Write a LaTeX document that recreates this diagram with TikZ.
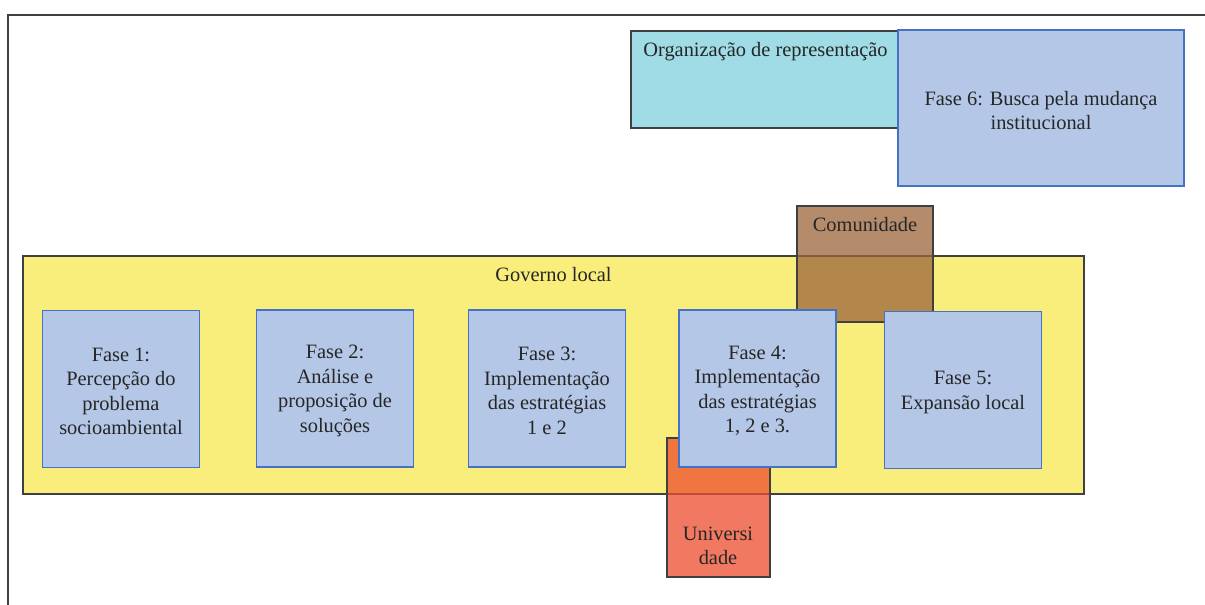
\documentclass[tikz,border=0pt]{standalone}
\usepackage{fontspec}
\setmainfont{LiberationSerif-Regular.ttf}
\usetikzlibrary{positioning}
\definecolor{faseblue}{RGB}{180,199,231}
\definecolor{faseline}{RGB}{68,114,196}
\definecolor{orgcyan}{RGB}{160,220,230}
\definecolor{govyellow}{RGB}{249,238,124}
\definecolor{combrown}{RGB}{157,102,60}
\definecolor{unired}{RGB}{237,79,47}
\definecolor{boxline}{RGB}{64,64,64}
\definecolor{textdark}{RGB}{38,38,38}
\tikzset{
  fase/.style={draw=faseline, fill=faseblue, line width=1.3pt, minimum width=157pt, minimum height=157pt, inner sep=0},
  faselabel/.style={align=center, yshift=-2.5pt},
  actor/.style={draw=boxline, line width=1.2pt, inner sep=0},
  toplabel/.style={anchor=base, yshift=-26pt, text opacity=1, fill opacity=1},
}
\begin{document}
\begin{tikzpicture}[x=1pt, y=-1pt, every node/.style={font=\fontsize{20.4}{24.5}\selectfont, text=textdark}]
\useasboundingbox (0,0) rectangle (1205,605);
\draw[boxline, line width=1.2pt] (1205,15) -- (8,15) -- (8,605);

\node[actor, fill=orgcyan, minimum width=269pt, minimum height=97pt,
  label={[toplabel]north:Organização de representação}] (org) at (765.5,79.5) {};
\node[fase, minimum width=286pt, minimum height=156pt,
  label={[faselabel]center:Fase 6: Busca pela mudança\\institucional}] (fase6) at (1041,108) {};

\node[actor, fill=govyellow, minimum width=1061pt, minimum height=238pt,
  label={[toplabel]north:Governo local}] (gov) at (553.5,375) {};
\node[actor, fill=combrown, fill opacity=0.76, minimum width=136pt, minimum height=116pt,
  label={[toplabel]north:Comunidade}] (com) at (865,264) {};
\node[actor, fill=unired, fill opacity=0.76, minimum width=103pt, minimum height=139pt] (uni) at (718.5,507.5) {};
\node[align=center] (unitext) at (718,546) {Universi\\dade};

\node[fase, label={[faselabel]center:Fase 1:\\Percepção do\\problema\\socioambiental}] (fase1) at (121,389) {};
\node[fase, label={[faselabel]center:Fase 2:\\Análise e\\proposição de\\soluções}] (fase2) at (335,388.5) {};
\node[fase, label={[faselabel]center:Fase 3:\\Implementação\\das estratégias\\1 e 2}] (fase3) at (547,388.5) {};
\node[fase, label={[faselabel]center:Fase 4:\\Implementação\\das estratégias\\1, 2 e 3.}] (fase4) at (757.5,388.5) {};
\node[fase, label={[faselabel]center:Fase 5:\\Expansão local}] (fase5) at (963,390) {};
\end{tikzpicture}
\end{document}
